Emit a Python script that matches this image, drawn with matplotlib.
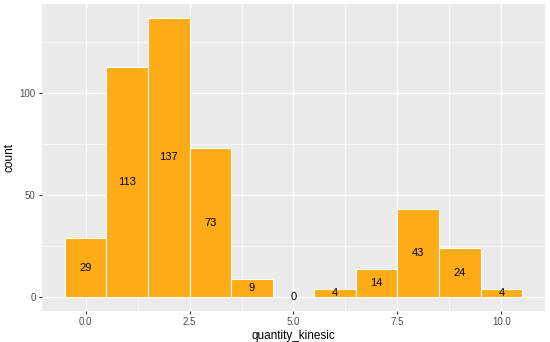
import matplotlib
matplotlib.use('Agg')
import matplotlib.pyplot as plt
import numpy as np

plt.rcParams['font.family'] = ['Liberation Sans', 'DejaVu Sans']

# histogram bins (centres) and counts
bin_centres = [0, 1, 2, 3, 4, 5, 6, 7, 8, 9, 10]
counts = [29, 113, 137, 73, 9, 0, 4, 14, 43, 24, 4]
x_ticks = [0.0, 2.5, 5.0, 7.5, 10.0]
x_tick_labels = ['0.0', '2.5', '5.0', '7.5', '10.0']
y_ticks = [0, 50, 100]

fig = plt.figure(figsize=(5.5, 3.42), dpi=100)
ax = fig.add_axes([42/550, 31/342, 503/550, 307/342])
ax.set_facecolor('#EBEBEB')

ax.bar(bin_centres, counts, width=1.0, color='#FDAB17', edgecolor='white', linewidth=0.8, zorder=3)
for xc, c in zip(bin_centres, counts):
    ax.text(xc, c / 2, str(c), ha='center', va='center', fontsize=8, color='black', zorder=4)

ax.set_xlim(-1.05, 11.05)
ax.set_ylim(-6.85, 143.85)
ax.set_xticks(x_ticks)
ax.set_xticklabels(x_tick_labels)
ax.set_yticks(y_ticks)
ax.set_xticks([1.25, 3.75, 6.25, 8.75], minor=True)
ax.set_yticks([25, 75, 125], minor=True)
ax.grid(which='major', color='white', linewidth=1.0, zorder=0)
ax.grid(which='minor', color='white', linewidth=0.5, zorder=0)
ax.set_axisbelow(True)
for s in ax.spines.values():
    s.set_visible(False)
ax.tick_params(which='major', length=2.5, color='#333333', labelsize=7, labelcolor='#4D4D4D', pad=2)
ax.tick_params(which='minor', length=0)
ax.set_xlabel('quantity_kinesic', fontsize=8.5, labelpad=2)
ax.set_ylabel('count', fontsize=8.5, labelpad=3)

fig.savefig('out.png', dpi=100)
